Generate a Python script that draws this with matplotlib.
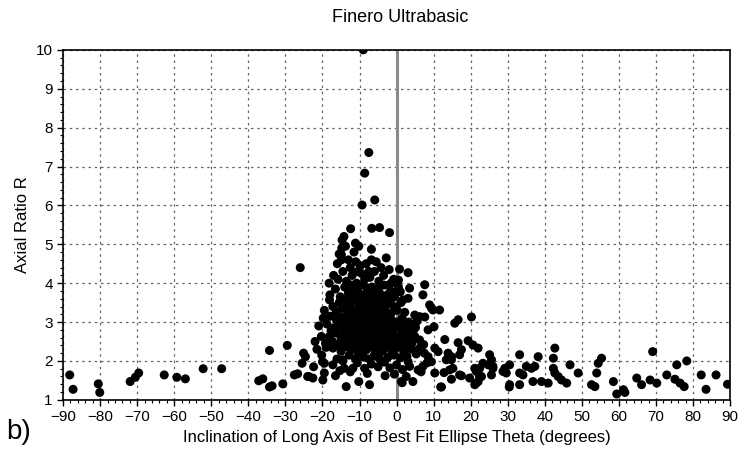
import matplotlib.pyplot as plt
import numpy as np

plt.rcParams['font.family'] = ['Liberation Sans', 'DejaVu Sans']

#=======# data (theta in degrees, axial ratio R) #=======#
# high outliers above the main cluster
theta_high = [-9, -7.5, -8.6, -5.9, -9.3, -12.4, -6.7, -4.6, -1.9, -14.2, -14.7,
              -11.1, -6.8, -14.9, -14.9, -26, -2.8, -10.2]
r_high = [10.0, 7.36, 6.83, 6.14, 6.01, 5.40, 5.41, 5.43, 5.30, 5.20, 5.11,
          5.03, 4.87, 4.73, 4.60, 4.40, 4.65, 4.95]

# main cluster, R about 4 to 5
theta_c1 = [-16, -15.5, -14.8, -13, -12.5, -11, -9.8, -8.2, -6.8, -5.5, -4.2,
            -11.5, -13.8, -10.5, -7.5, -17, -15.8, -14.5, -13.5, -12, -10.8,
            -9.5, -8.6, -7.2, -6, -4.8, -3.5, -2, -0.8, 0.8, 3.1, 0.5, -1.5, -18.2]
r_c1 = [4.5, 4.75, 4.9, 4.6, 4.4, 4.55, 4.45, 4.5, 4.6, 4.55, 4.4,
        4.8, 4.95, 4.3, 4.3, 4.2, 4.1, 4.3, 4.05, 4.2, 4.0,
        4.25, 4.1, 4.15, 4.3, 4.05, 4.2, 4.35, 4.1, 4.36, 4.27, 4.08, 4.0, 4.0]

# main cluster, R about 3.2 to 4
theta_c2 = [-18, -16.5, -15.2, -14, -13, -12.2, -11.4, -10.5, -9.7, -9, -8.2,
            -7.4, -6.6, -5.8, -5, -4.2, -3.3, -2.5, -1.6, -0.6, 0.5, 1.7, 3.1,
            3.5, 7.6, 7.1, -13.5, -7.8, -4.6,
            -19.5, -18.1, -17.2, -16.3, -15.5, -14.8, -14, -13.2, -12.6, -11.8,
            -11, -10.3, -9.6, -9, -8.4, -7.8, -7.1, -6.5, -5.9, -5.2, -4.5,
            -3.8, -3.1, -2.3, -1.5, -0.7, 0.2, 1.2, 2.2, 8.9, 9.4, 11.6, 4.9,
            6.2, 7.6, -12.1, -8.7, -6.2, -2.7, -10.7, -4.9, 9.8,
            -12.9, -10.9, -8.9, -6.9, -4.1, -2.0, -0.2, -11.9, -9.9, -7.3,
            -5.4, -3.6, -1.2, 1.0]
r_c2 = [3.7, 3.85, 3.65, 3.9, 3.75, 3.95, 3.6, 3.8, 3.65, 3.95, 3.75,
        3.6, 3.9, 3.7, 3.85, 3.62, 3.95, 3.7, 3.8, 3.65, 3.9, 3.57, 3.61,
        3.87, 3.96, 3.70, 3.6, 3.88, 3.75,
        3.3, 3.57, 3.4, 3.25, 3.5, 3.35, 3.55, 3.22, 3.45, 3.3,
        3.55, 3.38, 3.25, 3.5, 3.35, 3.2, 3.45, 3.58, 3.3, 3.42, 3.25,
        3.55, 3.35, 3.48, 3.22, 3.4, 3.3, 3.5, 3.25, 3.44, 3.36, 3.31, 3.18,
        3.14, 3.13, 3.58, 3.58, 3.22, 3.22, 3.2, 3.52, 3.31,
        3.42, 3.68, 3.3, 3.72, 3.4, 3.58, 3.75, 3.82, 3.45, 3.32,
        3.65, 3.28, 3.62, 3.78]

# main cluster, R about 2.4 to 3.2
theta_c3 = [-21, -19.8, -18.8, -17.9, -17, -16.2, -15.4, -14.7, -14, -13.3,
            -12.7, -12, -11.4, -10.8, -10.2, -9.6, -9.1, -8.5, -8, -7.4, -6.9,
            -6.3, -5.7, -5.1, -4.5, -3.9, -3.3, -2.7, -2.1, -1.4, -0.8, -0.1,
            0.7, 1.5, 2.4, 3.3, 4.2, 5.5, 8.5, 10.1, 15.7, 16.6, 20.2, -11.7,
            -7.7, -4.8, -1.8,
            -22, -20.3, -19.2, -18.1, -17.3, -16.5, -15.8, -15, -14.3, -13.6,
            -13, -12.4, -11.8, -11.2, -10.6, -10, -9.4, -8.8, -8.2, -7.6, -7,
            -6.4, -5.8, -5.2, -4.6, -4, -3.4, -2.8, -2.2, -1.5, -0.9, -0.2,
            0.6, 1.4, 2.3, 3.2, 4.1, 4.9, 6.2, 7.3, 13, 16.6, 19.3, 20.6,
            -14.9, -9.7, -6.7, -3.7, -1.2, -17.7, -12.1, -5.5,
            -10.9, -8.9, -6.1, -3.1, -0.4, -13.9, -9.3, -7.1, -5.1, -2.5,
            -11.6, -8.4, -4.3, -1.7, 0.3, -15.2, -12.9, -10.3, -6.9, -3.9,
            -13.1, -11.0, -9.0, -7.2, -5.3, -3.6, -1.9, 0.1, 1.9, 3.8,
            -12.3, -10.5, -8.6, -6.5, -4.7, -2.9, -1.0, 1.1, 2.9, 5.1,
            -14.4, -11.9, -9.8, -7.9, -6.0, -4.1, -2.4, -0.6, 1.8, 4.5]
r_c3 = [2.9, 3.1, 2.95, 3.15, 2.85, 3.05, 2.9, 3.12, 2.82, 3.0,
        2.88, 3.15, 2.95, 2.82, 3.1, 2.9, 3.05, 2.85, 3.18, 2.95, 2.82,
        3.08, 2.9, 3.15, 2.85, 3.0, 2.88, 3.12, 2.92, 3.05, 2.83, 3.0,
        2.9, 3.1, 2.85, 3.0, 2.9, 3.02, 2.8, 2.88, 2.97, 3.06, 3.13, 2.81,
        3.02, 3.02, 3.17,
        2.5, 2.63, 2.45, 2.63, 2.5, 2.72, 2.42, 2.6, 2.75, 2.48,
        2.65, 2.42, 2.58, 2.75, 2.45, 2.62, 2.78, 2.5, 2.68, 2.42, 2.6,
        2.75, 2.47, 2.65, 2.4, 2.58, 2.72, 2.45, 2.62, 2.5, 2.7, 2.44,
        2.6, 2.75, 2.5, 2.65, 2.45, 2.63, 2.54, 2.42, 2.55, 2.47, 2.52, 2.41,
        2.52, 2.55, 2.52, 2.5, 2.58, 2.78, 2.7, 2.78,
        2.68, 2.98, 2.68, 2.78, 2.96, 3.08, 2.66, 2.72, 2.56, 2.94,
        3.02, 2.58, 3.08, 2.86, 2.56, 2.98, 3.18, 2.97, 3.16, 2.7,
        2.35, 2.42, 2.36, 2.44, 2.38, 2.34, 2.4, 2.36, 2.42, 2.33,
        2.88, 3.08, 2.74, 2.92, 2.78, 3.04, 2.66, 2.98, 2.72, 2.86,
        2.66, 2.54, 3.12, 2.58, 2.94, 2.7, 3.0, 2.58, 2.66, 2.78]

# lower part of the cluster and the tails, R about 2 to 2.4
theta_c4 = [-25.1, -24.6, -21.5, -20.2, -19, -17.2, -16.1, -15, -14.5, -13.7,
            -12.8, -12, -11.1, -10.4, -9.6, -8.9, -8.2, -7.4, -6.7, -6, -5.3,
            -4.5, -3.8, -3, -2.3, -1.5, -0.7, 0.2, 1, 1.9, 2.8, 3.1, 4.2, 5.3,
            6.4, 7.5, 8.5, 9.4, 10.3, 11.2, 13.9, 14.8, 13.4, 17.5, 17, 14.8,
            25.1, 25.6, 33.2, 38.2, 42.3, 42.7, 55.3, 69.1, 78.3, -34.3, -29.5,
            22, -18.1, -9.4, -5.6, -1.1]
r_c4 = [2.2, 2.11, 2.3, 2.15, 2.35, 2.33, 2.05, 2.25, 2.03, 2.38,
        2.15, 2.3, 2.05, 2.22, 2.38, 2.1, 2.28, 2.05, 2.35, 2.15, 2.3,
        2.05, 2.25, 2.38, 2.1, 2.3, 2.15, 2.35, 2.08, 2.25, 2.12, 1.98, 2.3, 2.18,
        2.35, 2.2, 2.11, 1.98, 2.33, 2.24, 2.2, 2.11, 2.03, 2.29, 2.16, 2.03,
        2.16, 2.03, 2.16, 2.11, 2.07, 2.33, 2.07, 2.24, 2.0, 2.27, 2.4,
        2.33, 2.63, 2.2, 2.12, 2.2]

# low points, R below 2
theta_low = [-25.5, -22.4, -20, -19.5, -17.2, -14.5, -14.1, -11.8, -8.6, -10.6,
             -6.8, -5, -3.3, -1.8, 0, 1.6, 3.5, 5.8, 7.1, 8.2, 10.3, 14.3, 17,
             21.1, 22.4, 26, 24.7, 23.3, 22.4, 21.5, 22.9, 19.7, 15.2, 17.5,
             14.8, 26, 25.6, 30.5, 29.2, 29.6, 28.7, 33.2, 34.1, 35, 37.3, 36.4,
             42.3, 42.7, 43.6, 44.5, 46.8, 49, 54.4, 54, 64.8, 68.4, 72.9, 75.6,
             75.1, 82.2, 86.2, -23.7, -22.6, -27.6, -26.7, -24, -19.5, -19.9,
             -16.5, -12.5, -3.1, -0.6, 2.6, -52.2, -47.2, -62.7, -59.3, -57,
             -71.9, -70.5, -69.6, -88.2, -37.2, -36.1,
             -87.3, -80.5, -80.1, -34.3, -33.6, -30.7, -13.6, -10.2, -7.3, 1.5,
             4.4, 1.3, 11.9, 12.1, 21.5, 22, 21.1, 30.5, 30.4, 33.2, 36.8, 39.1,
             40.9, 45.9, 52.6, 53.5, 58.5, 59.4, 61.2, 61.6, 66.1, 70.2, 76.5,
             77.6, 83.5, 89.3, -15.3, -7.9, 6.6, 12.8]
r_low = [1.94, 1.85, 1.98, 1.94, 1.9, 2.0, 1.81, 1.81, 1.81, 1.95,
         1.92, 1.85, 1.97, 1.82, 1.9, 1.78, 1.86, 1.77, 1.86, 1.95, 1.69, 1.77, 1.64,
         1.81, 1.60, 1.81, 1.9, 1.94, 1.81, 1.73, 1.6, 1.56, 1.81, 1.62,
         1.53, 1.86, 1.64, 1.9, 1.81, 1.69, 1.73, 1.69, 1.64, 1.86, 1.86, 1.81,
         1.81, 1.69, 1.6, 1.51, 1.9, 1.69, 1.94, 1.69, 1.56, 1.51, 1.64, 1.9,
         1.53, 1.64, 1.64, 1.60, 1.56, 1.64, 1.67, 1.6, 1.69, 1.51,
         1.62, 1.72, 1.62, 1.66, 1.6, 1.8, 1.8, 1.64, 1.58, 1.54,
         1.47, 1.58, 1.69, 1.64, 1.49, 1.54,
         1.27, 1.41, 1.19, 1.33, 1.36, 1.41, 1.34, 1.47, 1.39, 1.44,
         1.47, 1.47, 1.33, 1.33, 1.43, 1.47, 1.39, 1.39, 1.33, 1.39, 1.47, 1.47,
         1.43, 1.43, 1.39, 1.34, 1.47, 1.15, 1.26, 1.19, 1.39, 1.43, 1.43,
         1.34, 1.27, 1.40, 1.75, 1.68, 1.72, 1.7]

theta = np.array(theta_high + theta_c1 + theta_c2 + theta_c3 + theta_c4 + theta_low)
axial_r = np.array(r_high + r_c1 + r_c2 + r_c3 + r_c4 + r_low)

x_ticks = np.arange(-90, 91, 10)
y_ticks = np.arange(1, 11, 1)

#=======# plot #=======#
fig = plt.figure(figsize=(7.42, 4.66), dpi=100)
ax = fig.add_axes([0.085, 0.142, 0.899, 0.751])

ax.grid(True, which='major', color='#666666', linestyle=(0, (2, 3)), linewidth=0.9)
ax.axvline(0, color='#8a8a8a', linewidth=2.2, zorder=2)
ax.scatter(theta, axial_r, s=42, color='black', edgecolors='none', zorder=3)

ax.set_xlim(-90, 90)
ax.set_ylim(1, 10)
ax.set_xticks(x_ticks)
ax.set_yticks(y_ticks)
ax.set_xticks(np.arange(-90, 91, 2), minor=True)
ax.set_yticks(np.arange(1, 10.01, 0.2), minor=True)
ax.tick_params(which='major', direction='out', length=4, width=1, labelsize=11)
ax.tick_params(which='minor', direction='out', length=2.5, width=0.8)
for s in ax.spines.values():
    s.set_linewidth(1.2)

ax.set_xlabel('Inclination of Long Axis of Best Fit Ellipse Theta (degrees)', fontsize=12, labelpad=4)
ax.set_ylabel('Axial Ratio R', fontsize=12, labelpad=4)
fig.text(0.54, 0.962, 'Finero Ultrabasic', ha='center', va='center', fontsize=13)
fig.text(0.008, 0.072, 'b)', ha='left', va='center', fontsize=20)

fig.savefig('out.png', dpi=100)
